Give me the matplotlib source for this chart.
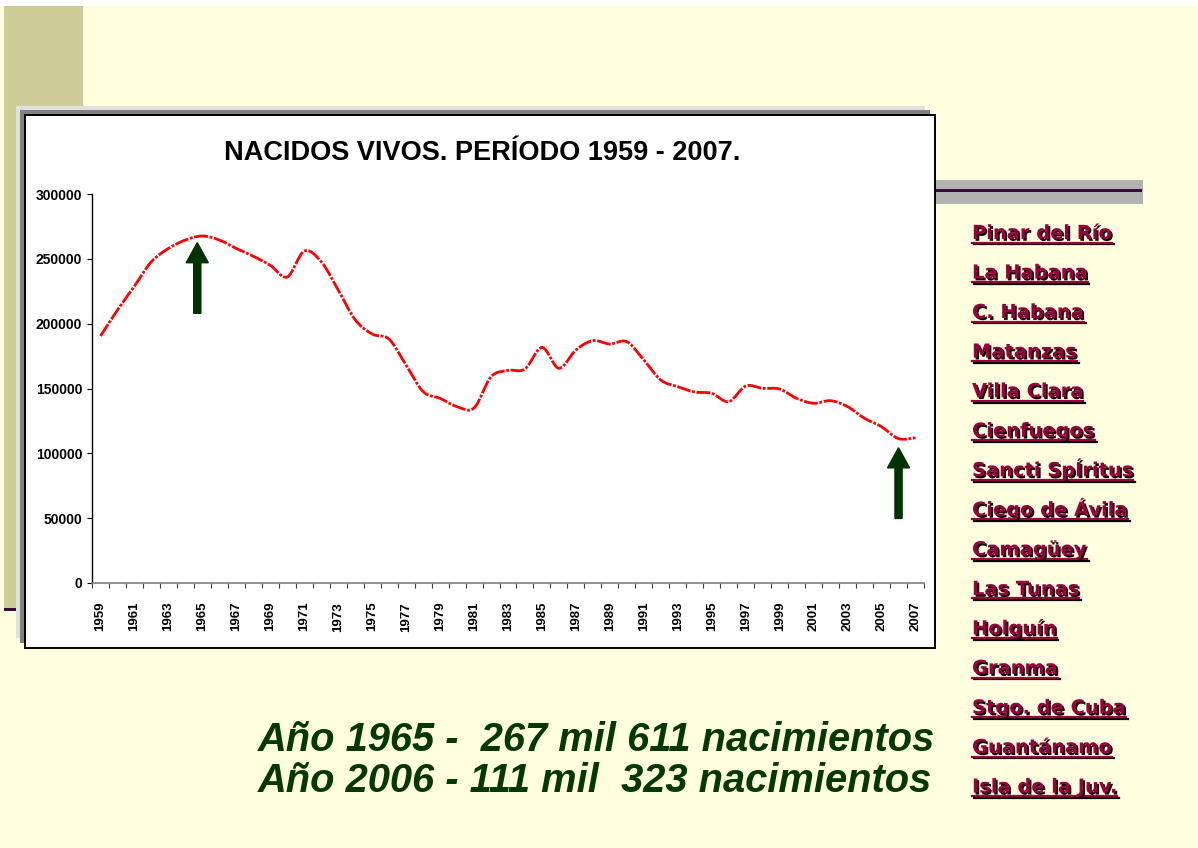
import matplotlib
matplotlib.use('Agg')
import matplotlib.pyplot as plt
import matplotlib.patches as mpatches
import matplotlib.transforms as mtransforms
import matplotlib.patheffects as pe
from matplotlib.lines import Line2D
from matplotlib.path import Path
from matplotlib import font_manager
import numpy as np

# data
years = list(range(1959, 2008))
births = [190500, 210500, 229000, 247800, 258000, 264500, 267611, 264500, 258000, 252000,
          245000, 236000, 256000, 247800, 226000, 203000, 192000, 188000, 168000, 147600,
          142400, 136000, 135000, 159000, 164000, 165000, 181700, 165600, 179700, 186900,
          184300, 186100, 172000, 156500, 151400, 147300, 146300, 139900, 151900, 150100,
          149600, 142400, 138600, 140600, 136000, 127000, 120500, 111323, 112000]
year_labels = [str(y) for y in years[::2]]
y_ticks = [0, 50000, 100000, 150000, 200000, 250000, 300000]
highlight_years = [1965, 2006]

title = 'NACIDOS VIVOS. PERÍODO 1959 - 2007.'
provinces = ['Pinar del Río', 'La Habana', 'C. Habana', 'Matanzas', 'Villa Clara',
             'Cienfuegos', 'Sancti SpÍritus', 'Ciego de Ávila', 'Camagüey', 'Las Tunas',
             'Holguín', 'Granma', 'Stgo. de Cuba', 'Guantánamo', 'Isla de la Juv.']
notes = ['Año 1965 -  267 mil 611 nacimientos',
         'Año 2006 - 111 mil  323 nacimientos']

W, H = 1198, 848
fig = plt.figure(figsize=(W / 100, H / 100), dpi=100)
fig.patch.set_facecolor('#FFFFE0')
# pixel coords, origin top-left
tr = mtransforms.Affine2D().scale(1 / W, -1 / H).translate(0, 1) + fig.transFigure


def rect(x0, y0, x1, y1, fc, ec='none', lw=0, z=-5):
    fig.add_artist(mpatches.Rectangle((x0, y1), x1 - x0, y0 - y1, transform=tr,
                                      facecolor=fc, edgecolor=ec, linewidth=lw, zorder=z))


# slide decoration
rect(0, 0, W, 6, 'white', z=-9)
rect(4, 6, 83, 608, '#CCCC99', z=-8)
rect(4, 608, 60, 610.5, '#3A0A3A', z=-8)
rect(935, 180, 1143, 204, '#B2B2B2', z=-8)
rect(935, 189, 1142, 191.5, '#3A0A3A', z=-7)

# chart frame with shadow
rect(16, 106, 925, 638, '#E0E0E0', z=-6)
rect(20, 110, 930, 643, '#808080', z=-5)
rect(25, 115, 935, 648, 'white', ec='black', lw=1.4, z=-4)

# axes
ax = fig.add_axes([92 / W, 1 - 583 / H, 832 / W, 389 / H])
ax.set_facecolor('none')
ax.set_xlim(years[0] - 0.5, years[-1] + 0.5)
ax.set_ylim(0, 300000)

# smoothed line (Excel style bezier through the data points)
n = len(years)
verts = [(years[0], births[0])]
codes = [Path.MOVETO]
for i in range(n - 1):
    a = max(i - 1, 0)
    b = min(i + 2, n - 1)
    c1 = (years[i] + (years[i + 1] - years[a]) / 6, births[i] + (births[i + 1] - births[a]) / 6)
    c2 = (years[i + 1] - (years[b] - years[i]) / 6, births[i + 1] - (births[b] - births[i]) / 6)
    verts += [c1, c2, (years[i + 1], births[i + 1])]
    codes += [Path.CURVE4] * 3
ax.add_patch(mpatches.PathPatch(Path(verts, codes), fill=False, edgecolor='#FF0000',
                                linewidth=2.0, linestyle=(0, (5, 0.6, 1, 0.6)), zorder=3))

# arrows
for x, tip in zip([highlight_years[0] - 0.3, highlight_years[1]], [262500, 104300]):
    ax.arrow(x, tip - 54500, 0, 54500, width=0.42, head_width=1.3, head_length=15500,
             length_includes_head=True, color='#003300', zorder=4)

for s in ['top', 'right']:
    ax.spines[s].set_visible(False)
ax.spines['left'].set_color('black')
ax.spines['bottom'].set_color('#808080')
ax.spines['left'].set_linewidth(1.0)
ax.spines['bottom'].set_linewidth(1.2)

ax.set_yticks(y_ticks)
ax.set_yticklabels([str(v) for v in y_ticks])
ax.tick_params(axis='y', length=3.6, width=0.8, pad=3.5, labelsize=10, color='black')
ax.set_xticks(years[::2])
ax.set_xticklabels(year_labels, rotation=90)
ax.set_xticks([y - 0.5 for y in years] + [years[-1] + 0.5], minor=True)
ax.tick_params(axis='x', which='major', length=0, pad=13.5, labelsize=9.5)
ax.tick_params(axis='x', which='minor', length=3.6, width=0.8, color='#404040')
for lab in ax.get_xticklabels() + ax.get_yticklabels():
    lab.set_fontfamily('Liberation Sans')
    lab.set_fontweight('bold')

# title
names = {f.name for f in font_manager.fontManager.ttflist}
if 'Liberation Sans Narrow' in names:
    tfam, tsize = 'Liberation Sans Narrow', 23.5
else:
    tfam, tsize = 'Liberation Sans', 19.5
fig.text(482 / W, 1 - 160 / H, title, ha='center', va='baseline', fontsize=tsize,
         fontweight='bold', family=tfam, color='black')

# province links
link_color = '#99003D'
link_texts = []
for k, name in enumerate(provinces):
    yb = 239 + 39.55 * k
    t = fig.text(972 / W, 1 - yb / H, name, ha='left', va='baseline', fontsize=14,
                 fontweight='bold', family='DejaVu Sans', color=link_color, zorder=5,
                 path_effects=[pe.withSimplePatchShadow(offset=(1.3, -1.3),
                                                        shadow_rgbFace='black', alpha=1)])
    link_texts.append((t, yb))

# bottom notes
for k, line in enumerate(notes):
    fig.text(258 / W, 1 - (751 + 41 * k) / H, line, ha='left', va='baseline',
             fontsize=28.7, fontweight='bold', style='italic', family='Liberation Sans',
             color='#053805')

# underline the links
fig.canvas.draw()
renderer = fig.canvas.get_renderer()
for t, yb in link_texts:
    bb = t.get_window_extent(renderer)
    fig.add_artist(Line2D([bb.x0, bb.x1], [yb + 3.5, yb + 3.5], transform=tr,
                          color=link_color, linewidth=1.6, zorder=5,
                          path_effects=[pe.SimpleLineShadow(offset=(1.3, -1.3),
                                                            shadow_color='black', alpha=1),
                                        pe.Normal()]))

fig.savefig('out.png', dpi=100, facecolor=fig.get_facecolor())
